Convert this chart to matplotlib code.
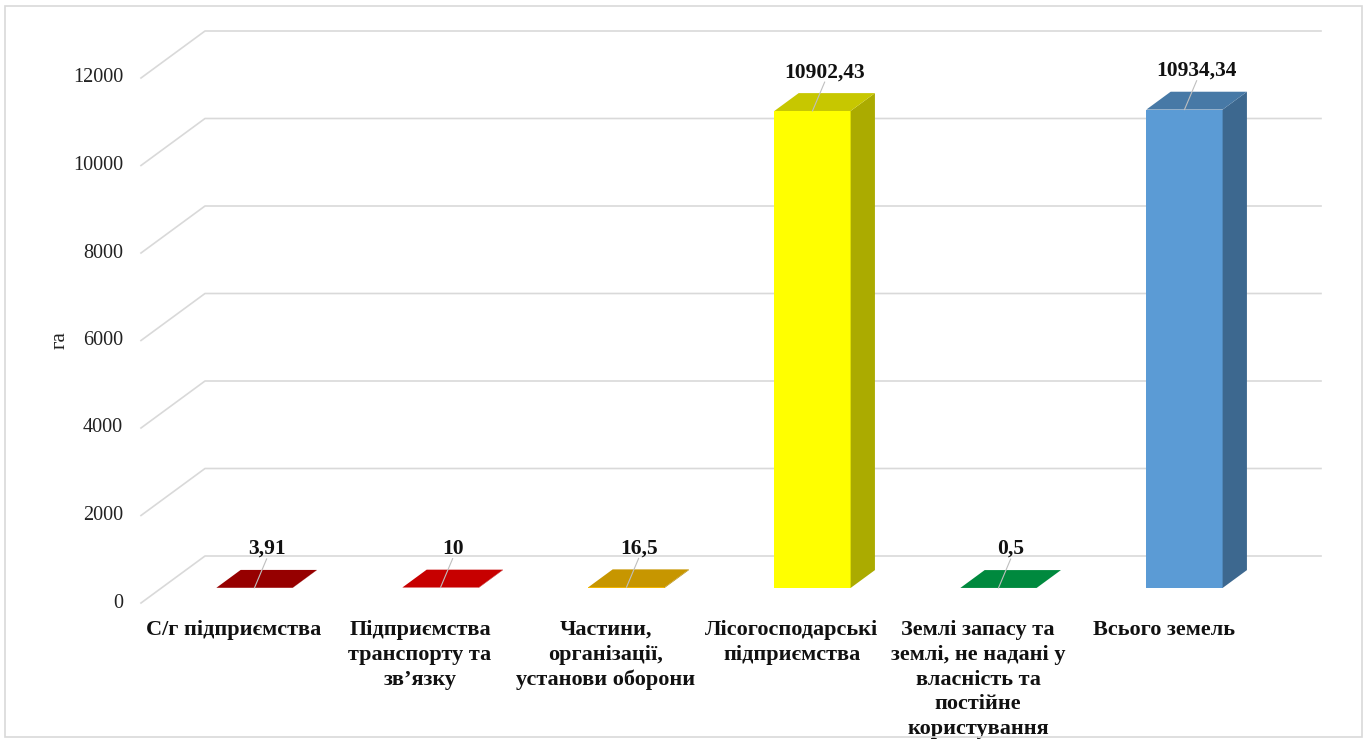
import matplotlib
matplotlib.use("Agg")
import matplotlib.pyplot as plt
from matplotlib.patches import Polygon, Rectangle
import numpy as np

# ---- data ----
categories = [
    "С/г підприємства",
    "Підприємства\nтранспорту та\nзв’язку",
    "Частини,\nорганізації,\nустанови оборони",
    "Лісогосподарські\nпідприємства",
    "Землі запасу та\nземлі, не надані у\nвласність та\nпостійне\nкористування",
    "Всього земель",
]
values = [3.91, 10, 16.5, 10902.43, 0.5, 10934.34]
value_labels = ["3,91", "10", "16,5", "10902,43", "0,5", "10934,34"]
yticks = [0, 2000, 4000, 6000, 8000, 10000, 12000]
y_label = "га"

# ---- style ----
front_colors = ["#C00000", "#FF0000", "#FFC000", "#FFFF00", "#00B050", "#5B9BD5"]
grid_color = "#d9d9d9"
FONT = ["Liberation Serif", "DejaVu Serif"]

W, H, DPI = 1367, 740, 100
fig = plt.figure(figsize=(W / DPI, H / DPI), dpi=DPI)
fig.patch.set_facecolor("white")
ax = fig.add_axes([0, 0, 1, 1])
ax.set_axis_off()

# pixel geometry -> data limits (front plane z=0)
px_per_cat = 186.0
x0_px = 234.0            # category 0 centre at z=0
px_per_1000 = 43.75
y0_px = 603.0            # value 0 at z=0 (from top)
ax.set_xlim((0 - x0_px) / px_per_cat, (W - x0_px) / px_per_cat)
ax.set_ylim(-(H - y0_px) / px_per_1000 * 1000, y0_px / px_per_1000 * 1000)

DX = 64.0 / px_per_cat           # x shift per unit depth
DY = 47.0 / px_per_1000 * 1000   # y shift per unit depth


def P(x, y, z):
    return (x + z * DX, y + z * DY)


# outer border
fig.patches.append(Rectangle((5 / W, 3 / H), 1357 / W, 731 / H, transform=fig.transFigure,
                             fill=False, edgecolor="#d9d9d9", linewidth=1.2))

# gridlines (left wall + back wall)
xl, xr = -0.5, 5.5
for v in yticks:
    pts = [P(xl, v, 0), P(xl, v, 1), P(xr, v, 1)]
    ax.plot([p[0] for p in pts], [p[1] for p in pts], color=grid_color, lw=1.2, zorder=1)
    ax.text(xl - 18 / px_per_cat, v, f"{v}", ha="right", va="center",
            fontsize=14.5, family=FONT, color="#222222")

ax.text((60 - x0_px) / px_per_cat, (y0_px - 340) / px_per_1000 * 1000, y_label,
        rotation=90, ha="center", va="center", fontsize=15, family=FONT, color="#222222")


def shade(c, f):
    r, g, b = matplotlib.colors.to_rgb(c)
    return (r * f, g * f, b * f)


zf, zb = 0.32, 0.70
bw = 0.41
for i, (v, c) in enumerate(zip(values, front_colors)):
    xa, xb = i - bw / 2, i + bw / 2
    # front face
    ax.bar(i + zf * DX, v, width=bw, bottom=zf * DY, color=c, edgecolor="none", zorder=3)
    # side face
    side = [P(xb, 0, zf), P(xb, 0, zb), P(xb, v, zb), P(xb, v, zf)]
    ax.add_patch(Polygon(side, closed=True, facecolor=shade(c, 0.67), edgecolor="none", zorder=3))
    # top face
    top = [P(xa, v, zf), P(xb, v, zf), P(xb, v, zb), P(xa, v, zb)]
    ax.add_patch(Polygon(top, closed=True, facecolor=shade(c, 0.78), edgecolor="none", zorder=3))
    # value label + leader line
    lx, ly = P(i, v, (zf + zb) / 2)
    ly_lab = v + zb * DY + 21 / px_per_1000 * 1000
    ax.text(lx, ly_lab, value_labels[i], ha="center", va="center", fontsize=15.5,
            fontweight="bold", family=FONT, color="#111111", zorder=5)
    fx, fy = P(i, v, zf)
    ax.plot([lx, fx], [ly_lab - 10 / px_per_1000 * 1000, fy], color="#bfbfbf", lw=0.8, zorder=4)

# category labels
for i, lab in enumerate(categories):
    ax.text(i, -(620 - y0_px) / px_per_1000 * 1000, lab, ha="center", va="top",
            fontsize=16, fontweight="bold", family=FONT, color="#111111", linespacing=1.32,
            multialignment="center")

fig.savefig("out.png", dpi=DPI, facecolor="white")
